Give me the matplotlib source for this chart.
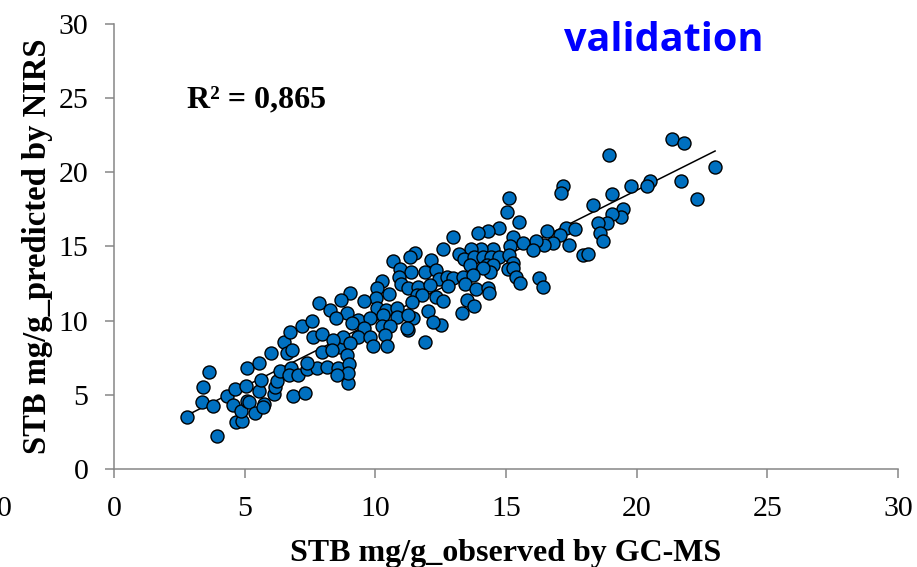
import numpy as np
import matplotlib
matplotlib.use('Agg')
import matplotlib.pyplot as plt

# STB content: GC-MS reference values vs NIRS predictions (validation set)
observed = np.array([
    2.78, 3.93, 3.64, 3.39, 3.38, 3.78, 4.34, 4.64, 4.57, 4.66, 4.91, 4.86, 5.10, 5.18, 5.06, 5.10,
    5.56, 5.40, 5.74, 5.71, 5.56, 5.64, 6.01, 6.13, 6.17, 6.25, 6.35, 6.51, 6.63, 6.82, 6.74, 6.76,
    6.71, 7.05, 6.86, 7.30, 7.19, 7.57, 7.37, 7.76, 7.63, 7.95, 7.95, 7.86, 8.16, 8.27,
    7.37, 8.97, 8.65, 11.26,
    12.58, 11.52, 11.33, 10.67, 12.14, 10.94, 11.37, 11.90, 12.32, 10.92, 12.45, 12.73, 10.24, 10.05,
    10.98, 11.26, 11.65, 12.09, 11.58, 11.78, 12.32, 12.60, 9.03, 8.69, 10.03, 10.52, 9.58, 11.39,
    8.91, 8.50, 10.05, 10.41, 10.82, 12.03, 11.45, 9.35, 9.80, 10.28, 10.82, 11.24, 12.51, 12.22,
    9.10, 9.58, 10.24, 10.56, 11.20, 8.78, 9.33, 9.80, 10.37, 8.39, 9.03, 9.92, 10.44, 11.90,
    8.35, 8.91, 8.58, 8.99, 8.97, 8.55,
    17.17, 17.10, 15.12, 15.05, 15.50, 14.73, 14.32, 13.94, 12.98, 15.26, 16.56, 17.30, 17.64, 17.07,
    16.79, 16.47, 16.15, 15.66, 17.41, 16.05, 15.15, 14.49, 14.03, 13.65, 13.21, 13.39, 13.79, 14.13,
    14.43, 14.75, 15.13, 15.26, 14.26, 14.49, 13.62, 15.09, 15.28, 14.39, 14.13, 12.96, 13.34, 13.75,
    15.38, 15.54, 16.26, 16.43, 12.79, 13.43, 13.85, 14.30, 14.36, 13.50, 13.79, 13.31,
    21.37, 21.81, 18.94, 23.00, 21.70, 22.30, 20.51, 20.39, 19.79, 19.07, 18.34, 19.49, 19.39, 19.05,
    18.88, 18.51, 18.60, 18.70, 17.96, 18.15,
])
predicted = np.array([
    3.49, 2.25, 6.56, 5.53, 4.50, 4.27, 4.94, 5.37, 4.32, 3.15, 3.26, 3.93, 4.61, 4.54, 5.60, 6.79,
    7.17, 3.80, 4.36, 4.16, 5.24, 6.00, 7.80, 5.04, 5.51, 5.93, 6.61, 8.54, 7.80, 8.02, 9.24, 6.79,
    6.34, 6.34, 4.94, 5.14, 9.64, 9.96, 6.74, 6.79, 8.92, 9.08, 7.91, 11.21, 6.90, 10.72,
    7.13, 5.82, 8.25, 9.37,
    14.83, 14.59, 14.27, 14.05, 14.09, 13.47, 13.28, 13.26, 13.42, 12.97, 12.79, 12.97, 12.70, 12.18,
    12.45, 12.18, 12.29, 12.41, 11.73, 11.73, 11.62, 11.33, 11.85, 11.40, 11.55, 11.78, 11.33, 11.28,
    10.50, 10.16, 10.84, 10.72, 10.84, 10.65, 10.16, 10.05, 10.16, 10.38, 10.27, 10.38, 9.71, 9.93,
    9.82, 9.49, 9.64, 9.64, 9.53, 8.92, 8.88, 8.92, 9.04, 8.70, 8.48, 8.29, 8.29, 8.58,
    8.02, 7.69, 6.79, 7.08, 6.45, 6.34,
    19.08, 18.63, 18.25, 17.33, 16.68, 16.23, 16.07, 15.89, 15.66, 15.66, 16.07, 16.23, 16.16, 15.78,
    15.26, 15.10, 15.39, 15.26, 15.10, 14.77, 15.04, 14.81, 14.81, 14.83, 14.50, 14.16, 14.32, 14.27,
    14.27, 14.32, 14.43, 13.91, 13.76, 13.76, 13.76, 13.47, 13.53, 13.30, 13.53, 12.86, 12.97, 13.08,
    12.93, 12.52, 12.86, 12.25, 12.34, 12.47, 12.14, 12.18, 11.85, 11.40, 10.99, 10.54,
    22.25, 21.96, 21.17, 20.38, 19.42, 18.21, 19.42, 19.10, 19.10, 18.52, 17.80, 17.51, 17.01, 17.17,
    16.57, 16.61, 15.89, 15.37, 14.43, 14.50,
])

r2_label = 'R² = 0,865'
ticks = [0, 5, 10, 15, 20, 25, 30]
serif = 'Liberation Serif'
axis_grey = '#868686'

fig = plt.figure(figsize=(9.17, 5.67), dpi=100)
ax = fig.add_axes([0.1243, 0.1728, 0.855, 0.785])

ax.scatter(observed, predicted, s=88, c='#0070C0', edgecolors='black',
           linewidths=1.0, zorder=3)

# linear trendline over the range of observed values
slope, intercept = np.polyfit(observed, predicted, 1)
xs = np.array([observed.min(), observed.max()])
ax.plot(xs, slope * xs + intercept, color='black', lw=1.1, zorder=2)

ax.set_xlim(0, 30)
ax.set_ylim(0, 30)
ax.set_xticks(ticks)
ax.set_yticks(ticks)
ax.set_xticklabels([str(t) for t in ticks], family=serif, fontsize=21.5)
ax.set_yticklabels([str(t) for t in ticks], family=serif, fontsize=21.5)
ax.tick_params(direction='out', length=6.5, width=1.1, color=axis_grey)
ax.tick_params(axis='x', pad=13)
ax.tick_params(axis='y', pad=12)

for side in ('top', 'right'):
    ax.spines[side].set_visible(False)
for side in ('left', 'bottom'):
    ax.spines[side].set_color(axis_grey)
    ax.spines[side].set_linewidth(1.1)

ax.set_xlabel('STB mg/g_observed by GC-MS', family=serif, fontsize=23,
              fontweight='bold', labelpad=12)
ax.set_ylabel('STB mg/g_predicted by NIRS', family=serif, fontsize=23.5,
              fontweight='bold', labelpad=4)

ax.text(2.8, 24.9, r2_label, family=serif, fontsize=23, fontweight='bold',
        ha='left', va='center')
ax.text(21.05, 28.9, 'validation', family='Open Sans', fontsize=28.5,
        fontweight='bold', color='#0000FF', ha='center', va='center')

# stray tick label from a neighbouring panel, clipped at the left edge
fig.text(12 / 917, 0.102, '0', family=serif, fontsize=21.5, ha='right', va='center')

fig.savefig('out.png', dpi=100)
